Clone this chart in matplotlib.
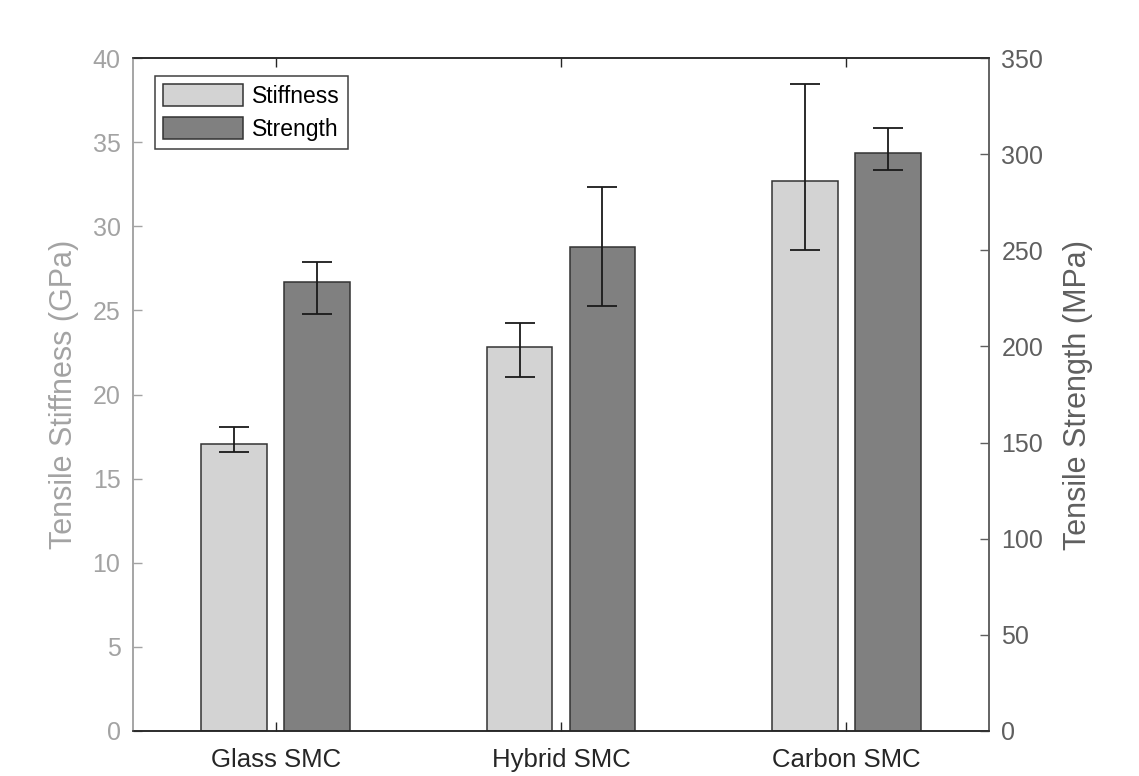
import numpy as np
import matplotlib
matplotlib.use("Agg")
import matplotlib.pyplot as plt

plt.rcParams['font.family'] = ['Liberation Sans', 'DejaVu Sans']

# data
materials = ['Glass SMC', 'Hybrid SMC', 'Carbon SMC']
stiffness = [17.06, 22.8, 32.69]          # GPa
stiff_low = [16.6, 21.06, 28.57]
stiff_high = [18.05, 24.27, 38.43]
strength = [233.6, 251.6, 300.8]          # MPa
str_low = [217.0, 221.2, 291.9]
str_high = [244.0, 282.9, 313.7]

left_col = '#a3a3a3'
right_col = '#5f5f5f'
dark = '#262626'

x = np.arange(1, len(materials) + 1)
off = 0.145
w = 0.23

fig = plt.figure(figsize=(11.39, 7.76), dpi=100)
ax = fig.add_axes([133/1139, 1 - 731/776, (989-133)/1139, (731-58)/776])
ax2 = ax.twinx()

stiff_err = [np.array(stiffness) - np.array(stiff_low), np.array(stiff_high) - np.array(stiffness)]
str_err = [np.array(strength) - np.array(str_low), np.array(str_high) - np.array(strength)]

b1 = ax.bar(x - off, stiffness, w, color='#d3d3d3', edgecolor='#333333', linewidth=1.1,
            label='Stiffness', zorder=2)
ax.errorbar(x - off, stiffness, yerr=stiff_err, fmt='none', ecolor='#1a1a1a',
            elinewidth=1.3, capsize=11, capthick=1.3, zorder=3)
b2 = ax2.bar(x + off, strength, w, color='#808080', edgecolor='#333333', linewidth=1.1,
             label='Strength', zorder=2)
ax2.errorbar(x + off, strength, yerr=str_err, fmt='none', ecolor='#1a1a1a',
             elinewidth=1.3, capsize=11, capthick=1.3, zorder=3)

ax.set_xlim(0.5, 3.5)
ax.set_ylim(0, 40)
ax2.set_ylim(0, 350)
ax.set_yticks(np.arange(0, 41, 5))
ax2.set_yticks(np.arange(0, 351, 50))
ax.set_xticks(x)
ax.set_xticklabels(materials, fontsize=18.5, color=dark)

ax.set_ylabel('Tensile Stiffness (GPa)', fontsize=22, color=left_col, labelpad=10)
ax2.set_ylabel('Tensile Strength (MPa)', fontsize=22, color=right_col, labelpad=14)

ax.tick_params(axis='y', colors=left_col, labelsize=18, direction='in', length=6.5, width=1, pad=9)
ax2.tick_params(axis='y', colors=right_col, labelsize=18, direction='in', length=6.5, width=1, pad=9)
ax.tick_params(axis='x', direction='in', length=6.5, width=1, top=True, color=dark, pad=12)

for a in (ax, ax2):
    a.spines['left'].set_color(left_col)
    a.spines['right'].set_color(right_col)
    a.spines['top'].set_color(dark)
    a.spines['bottom'].set_color(dark)
    for s in a.spines.values():
        s.set_linewidth(1.1)

leg = ax2.legend([b1, b2], ['Stiffness', 'Strength'], loc='upper left',
                 bbox_to_anchor=(0.0257, 0.973), borderaxespad=0, fontsize=16.5,
                 fancybox=False, framealpha=1, edgecolor='#404040',
                 handlelength=3.5, handleheight=1.1, handletextpad=0.4,
                 labelspacing=0.4, borderpad=0.35)
leg.get_frame().set_linewidth(1.1)

fig.savefig('out.png', dpi=100)
